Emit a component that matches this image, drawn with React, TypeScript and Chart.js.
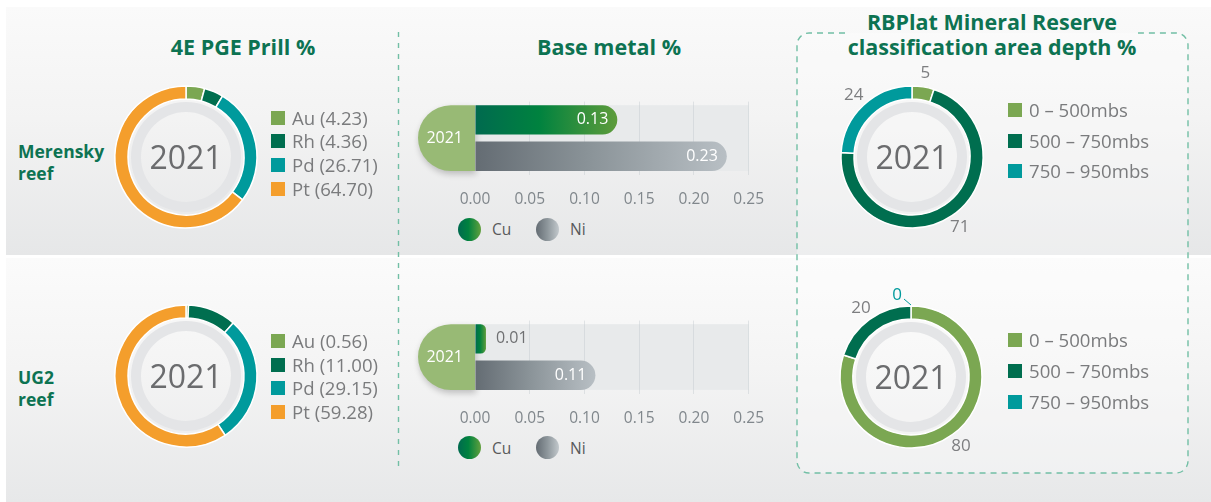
import React, { useEffect, useRef } from "react";
import { Chart, registerables } from "chart.js";
Chart.register(...registerables);

const FONT = "'Open Sans', 'Noto Sans', sans-serif";

// ---- data ----
const pgeMetals = ["Au", "Rh", "Pd", "Pt"];
const pgeMerensky = [4.23, 4.36, 26.71, 64.7];
const pgeUG2 = [0.56, 11.0, 29.15, 59.28];
const pgeColors = ["#7ba752", "#006e4f", "#009a9c", "#f49e2c"];

const baseYear = ["2021"];
const baseMetals = ["Cu", "Ni"];
const baseMerensky = [0.13, 0.23];
const baseUG2 = [0.01, 0.11];
const baseTicks = [0, 0.05, 0.1, 0.15, 0.2, 0.25];

const depthClasses = ["0 – 500mbs", "500 – 750mbs", "750 – 950mbs"];
const depthMerensky = [5, 71, 24];
const depthUG2 = [80, 20, 0];
const depthColors = ["#7ba752", "#006e4f", "#009a9c"];

const rowLabels = [["Merensky", "reef"], ["UG2", "reef"]];
const yearLabel = "2021";

const GREEN_TITLE = "#0d7352";
const GREY_TEXT = "#7a7b7d";

// ---- doughnut ----
const discPlugin = {
  id: "disc",
  beforeDatasetsDraw(chart: any) {
    const a = chart.chartArea;
    const cx = (a.left + a.right) / 2;
    const cy = (a.top + a.bottom) / 2;
    const ctx = chart.ctx;
    ctx.save();
    ctx.beginPath();
    ctx.arc(cx, cy, chart.outerRadius + 1.5, 0, Math.PI * 2);
    ctx.fillStyle = "#ffffff";
    ctx.fill();
    ctx.restore();
  },
};

const outsideLabelPlugin = {
  id: "outsideLabels",
  afterDatasetsDraw(chart: any) {
    const ctx = chart.ctx;
    const ds = chart.data.datasets[0];
    const meta = chart.getDatasetMeta(0);
    meta.data.forEach((el: any, i: number) => {
      const p = el.getProps(["x", "y", "startAngle", "endAngle", "outerRadius"], true);
      const v = ds.data[i] as number;
      const mid = (p.startAngle + p.endAngle) / 2;
      ctx.save();
      ctx.font = `17px ${FONT}`;
      ctx.textAlign = "center";
      ctx.textBaseline = "middle";
      if (v === 0) {
        const color = (ds.backgroundColor as string[])[i];
        const ax = p.x + Math.cos(mid) * (p.outerRadius + 1);
        const ay = p.y + Math.sin(mid) * (p.outerRadius + 1);
        ctx.strokeStyle = color;
        ctx.lineWidth = 1;
        ctx.beginPath();
        ctx.moveTo(ax, ay);
        ctx.lineTo(ax - 7, ay - 6);
        ctx.stroke();
        ctx.fillStyle = color;
        ctx.fillText(String(v), ax - 14, ay - 10);
      } else {
        const r = p.outerRadius + 14;
        ctx.fillStyle = "#7d7e80";
        ctx.fillText(String(v), p.x + Math.cos(mid) * r, p.y + Math.sin(mid) * r);
      }
      ctx.restore();
    });
  },
};

function Donut(props: { cx: number; cy: number; values: number[]; colors: string[]; labels: string[]; outside?: boolean }) {
  const ref = useRef<HTMLCanvasElement>(null);
  const S = 200;
  useEffect(() => {
    const R = 71;
    const HOLE = 45;
    const chart = new Chart(ref.current!, {
      type: "doughnut",
      data: {
        labels: props.labels,
        datasets: [
          { data: props.values, backgroundColor: props.colors, borderColor: "#ffffff", borderWidth: 1.5, weight: 13 } as any,
          { data: [1], backgroundColor: "rgba(0,0,0,0)", borderWidth: 0, weight: 3 } as any,
          { data: [1], backgroundColor: "#e4e5e7", borderWidth: 0, weight: 10 } as any,
        ],
      },
      options: {
        animation: false,
        responsive: false,
        events: [],
        radius: R,
        cutout: (HOLE / R) * 100 + "%",
        layout: { padding: 0 },
        plugins: { legend: { display: false }, tooltip: { enabled: false } },
      } as any,
      plugins: props.outside ? [discPlugin, outsideLabelPlugin] : [discPlugin],
    });
    return () => chart.destroy();
  }, []);
  return (
    <>
      <canvas
        ref={ref}
        width={S}
        height={S}
        style={{ position: "absolute", left: props.cx - S / 2, top: props.cy - S / 2, width: S, height: S }}
      />
      <div
        style={{
          position: "absolute",
          left: props.cx - 60,
          top: props.cy - 22,
          width: 120,
          height: 44,
          lineHeight: "44px",
          textAlign: "center",
          fontSize: 32,
          color: "#6b6c6e",
        }}
      >
        {yearLabel}
      </div>
    </>
  );
}

function SquareLegend(props: { x: number; y0: number; pitch: number; items: string[]; colors: string[] }) {
  return (
    <>
      {props.items.map((t, i) => (
        <div
          key={t}
          style={{
            position: "absolute",
            left: props.x,
            top: props.y0 + i * props.pitch - 12,
            height: 24,
            display: "flex",
            alignItems: "center",
            whiteSpace: "nowrap",
          }}
        >
          <div style={{ width: 14, height: 14, background: props.colors[i], marginRight: 7 }} />
          <span style={{ fontSize: 18.6, lineHeight: "24px", color: GREY_TEXT }}>{t}</span>
        </div>
      ))}
    </>
  );
}

// ---- base metal bars ----
const barStops: string[][] = [
  ["#006a4f", "#00823f", "#5e9c3b"],
  ["#646c73", "#8a9398", "#b8bfc4"],
];

const trackPlugin = {
  id: "track",
  beforeDraw(chart: any) {
    const ctx = chart.ctx;
    const xs = chart.scales.x;
    let top = Infinity;
    let bottom = -Infinity;
    chart.data.datasets.forEach((_: any, di: number) => {
      chart.getDatasetMeta(di).data.forEach((el: any) => {
        const p = el.getProps(["y", "height"], true);
        top = Math.min(top, p.y - p.height / 2);
        bottom = Math.max(bottom, p.y + p.height / 2);
      });
    });
    const x0 = xs.getPixelForValue(0);
    ctx.save();
    ctx.fillStyle = "#e8eaeb";
    ctx.fillRect(x0, top, xs.right - x0, bottom - top);
    // pill behind the category label
    const cy = (top + bottom) / 2;
    const r = (bottom - top) / 2;
    const w = 57;
    ctx.shadowColor = "rgba(0,0,0,0.22)";
    ctx.shadowBlur = 6;
    ctx.shadowOffsetX = 1;
    ctx.shadowOffsetY = 3;
    ctx.beginPath();
    ctx.moveTo(x0, bottom);
    ctx.lineTo(x0 - (w - r), bottom);
    ctx.arc(x0 - (w - r), cy, r, Math.PI / 2, (Math.PI * 3) / 2);
    ctx.lineTo(x0, top);
    ctx.closePath();
    ctx.fillStyle = "#98ba75";
    ctx.fill();
    ctx.restore();
  },
};

const valuePlugin = {
  id: "values",
  afterDatasetsDraw(chart: any) {
    const ctx = chart.ctx;
    chart.data.datasets.forEach((ds: any, di: number) => {
      chart.getDatasetMeta(di).data.forEach((el: any, i: number) => {
        const v = ds.data[i] as number;
        const txt = v.toFixed(2);
        const p = el.getProps(["x", "y", "base"], true);
        ctx.save();
        ctx.font = `16px ${FONT}`;
        ctx.textBaseline = "middle";
        const w = ctx.measureText(txt).width;
        if (p.x - p.base > w + 24) {
          ctx.fillStyle = "#ffffff";
          ctx.textAlign = "right";
          ctx.fillText(txt, p.x - 9, p.y);
        } else {
          ctx.fillStyle = "#6f7072";
          ctx.textAlign = "left";
          ctx.fillText(txt, p.x + 10, p.y);
        }
        ctx.restore();
      });
    });
  },
};

function BaseBars(props: { top: number; values: number[] }) {
  const ref = useRef<HTMLCanvasElement>(null);
  const W = 370;
  const H = 130;
  useEffect(() => {
    const chart = new Chart(ref.current!, {
      type: "bar",
      data: {
        labels: baseYear,
        datasets: baseMetals.map((m, i) => ({
          label: m,
          data: [props.values[i]],
          backgroundColor: (c: any) => {
            const ch = c.chart;
            const xs = ch.scales && ch.scales.x;
            if (!ch.chartArea || !xs || typeof c.raw !== "number") return barStops[i][1];
            const x0 = xs.getPixelForValue(0);
            const x1 = Math.max(xs.getPixelForValue(c.raw), x0 + 1);
            const g = ch.ctx.createLinearGradient(x0, 0, x1, 0);
            g.addColorStop(0, barStops[i][0]);
            g.addColorStop(0.45, barStops[i][1]);
            g.addColorStop(1, barStops[i][2]);
            return g;
          },
          borderRadius: 19,
          borderSkipped: "start",
          categoryPercentage: 1,
          barPercentage: 37 / 46,
        })) as any,
      },
      options: {
        indexAxis: "y",
        animation: false,
        responsive: false,
        events: [],
        layout: { padding: { top: 2.5, left: 8, right: 27, bottom: 0 } },
        plugins: { legend: { display: false }, tooltip: { enabled: false } },
        scales: {
          x: {
            min: 0,
            max: 0.25,
            afterBuildTicks: (s: any) => {
              s.ticks = baseTicks.map((v) => ({ value: v }));
            },
            afterFit: (s: any) => {
              s.height = 35.5;
            },
            ticks: {
              callback: (v: any) => Number(v).toFixed(2),
              color: "#80878c",
              font: { family: FONT, size: 15.5 },
              padding: 16,
              maxRotation: 0,
              autoSkip: false,
            },
            grid: {
              drawTicks: false,
              color: (c: any) => (c.tick && c.tick.value === 0 ? "rgba(0,0,0,0)" : "rgba(196,202,206,0.45)"),
              lineWidth: 1,
            },
            border: { display: false },
          },
          y: {
            afterFit: (s: any) => {
              s.width = 57;
            },
            ticks: { color: "#ffffff", font: { family: FONT, size: 16 }, padding: 12 },
            grid: { display: false, drawTicks: false },
            border: { display: false },
          },
        },
      } as any,
      plugins: [trackPlugin, valuePlugin],
    });
    return () => chart.destroy();
  }, []);
  return (
    <canvas
      ref={ref}
      width={W}
      height={H}
      style={{ position: "absolute", left: 410, top: props.top, width: W, height: H }}
    />
  );
}

const circleGrad = [
  "linear-gradient(90deg, #006a4f 0%, #00823f 45%, #62a03e 100%)",
  "linear-gradient(90deg, #646c73 0%, #8e979c 50%, #c2c8cc 100%)",
];

function CircleLegend(props: { y: number }) {
  const xs = [469, 547];
  return (
    <>
      {baseMetals.map((m, i) => (
        <React.Fragment key={m}>
          <div
            style={{
              position: "absolute",
              left: xs[i] - 11.5,
              top: props.y - 11.5,
              width: 23,
              height: 23,
              borderRadius: "50%",
              background: circleGrad[i],
            }}
          />
          <div
            style={{
              position: "absolute",
              left: xs[i] + 23,
              top: props.y - 12,
              height: 24,
              lineHeight: "24px",
              fontSize: 15.5,
              color: "#58595b",
            }}
          >
            {m}
          </div>
        </React.Fragment>
      ))}
    </>
  );
}

function Title(props: { cx: number; cy: number; lines: string[] }) {
  return (
    <div
      style={{
        position: "absolute",
        left: props.cx - 200,
        width: 400,
        top: props.cy - (props.lines.length * 25) / 2,
        textAlign: "center",
        fontSize: 21.5,
        fontWeight: 700,
        lineHeight: "25px",
        color: GREEN_TITLE,
      }}
    >
      {props.lines.map((l) => (
        <div key={l}>{l}</div>
      ))}
    </div>
  );
}

function RowLabel(props: { top: number; lines: string[] }) {
  return (
    <div
      style={{
        position: "absolute",
        left: 18,
        top: props.top,
        fontSize: 17.5,
        fontWeight: 700,
        lineHeight: "22px",
        color: GREEN_TITLE,
      }}
    >
      {props.lines.map((l) => (
        <div key={l}>{l}</div>
      ))}
    </div>
  );
}

export default function App() {
  const rectOpen =
    "M845 33 H809 A12 12 0 0 0 797 45 V461 A12 12 0 0 0 809 473 H1176 A12 12 0 0 0 1188 461 V45 A12 12 0 0 0 1176 33 H1138";
  const rectClosed =
    "M1176 33 H809 A12 12 0 0 0 797 45 V461 A12 12 0 0 0 809 473 H1176 A12 12 0 0 0 1188 461 V45 A12 12 0 0 0 1176 33 Z";
  return (
    <div
      style={{
        position: "fixed",
        left: 0,
        top: 0,
        width: 1211,
        height: 502,
        background: "#ffffff",
        overflow: "hidden",
        fontFamily: FONT,
      }}
    >
      <div
        style={{
          position: "absolute",
          left: 6,
          top: 7,
          width: 1205,
          height: 248,
          background: "linear-gradient(180deg, #fafafa 0%, #f3f3f3 45%, #e6e7e8 100%)",
        }}
      />
      <div
        style={{
          position: "absolute",
          left: 6,
          top: 258,
          width: 1205,
          height: 244,
          background: "linear-gradient(180deg, #fbfbfb 0%, #f4f4f4 45%, #e7e8e9 100%)",
        }}
      />
      <svg width={1211} height={502} style={{ position: "absolute", left: 0, top: 0 }}>
        <path d={rectClosed} fill="rgba(255,255,255,0.3)" stroke="none" />
        <path d={rectOpen} fill="none" stroke="#72bfa5" strokeWidth={1.4} strokeDasharray="6 5" />
        <line x1={398.5} y1={32} x2={398.5} y2={470} stroke="#72bfa5" strokeWidth={1.4} strokeDasharray="5 6" />
      </svg>

      <Title cx={243} cy={46} lines={["4E PGE Prill %"]} />
      <Title cx={609} cy={46} lines={["Base metal %"]} />
      <Title cx={992} cy={33.5} lines={["RBPlat Mineral Reserve", "classification area depth %"]} />

      <RowLabel top={139.5} lines={rowLabels[0]} />
      <RowLabel top={366} lines={rowLabels[1]} />

      <Donut cx={186} cy={157} values={pgeMerensky} colors={pgeColors} labels={pgeMetals} />
      <Donut cx={186} cy={376} values={pgeUG2} colors={pgeColors} labels={pgeMetals} />
      <SquareLegend
        x={271}
        y0={117.5}
        pitch={23.8}
        items={pgeMetals.map((m, i) => `${m} (${pgeMerensky[i].toFixed(2)})`)}
        colors={pgeColors}
      />
      <SquareLegend
        x={271}
        y0={341}
        pitch={23.7}
        items={pgeMetals.map((m, i) => `${m} (${pgeUG2[i].toFixed(2)})`)}
        colors={pgeColors}
      />

      <BaseBars top={80} values={baseMerensky} />
      <BaseBars top={299} values={baseUG2} />
      <CircleLegend y={229} />
      <CircleLegend y={447.5} />

      <Donut cx={912} cy={157} values={depthMerensky} colors={depthColors} labels={depthClasses} outside />
      <Donut cx={911} cy={377} values={depthUG2} colors={depthColors} labels={depthClasses} outside />
      <SquareLegend x={1008} y0={110} pitch={30.5} items={depthClasses} colors={depthColors} />
      <SquareLegend x={1008} y0={340} pitch={31} items={depthClasses} colors={depthColors} />
    </div>
  );
}
